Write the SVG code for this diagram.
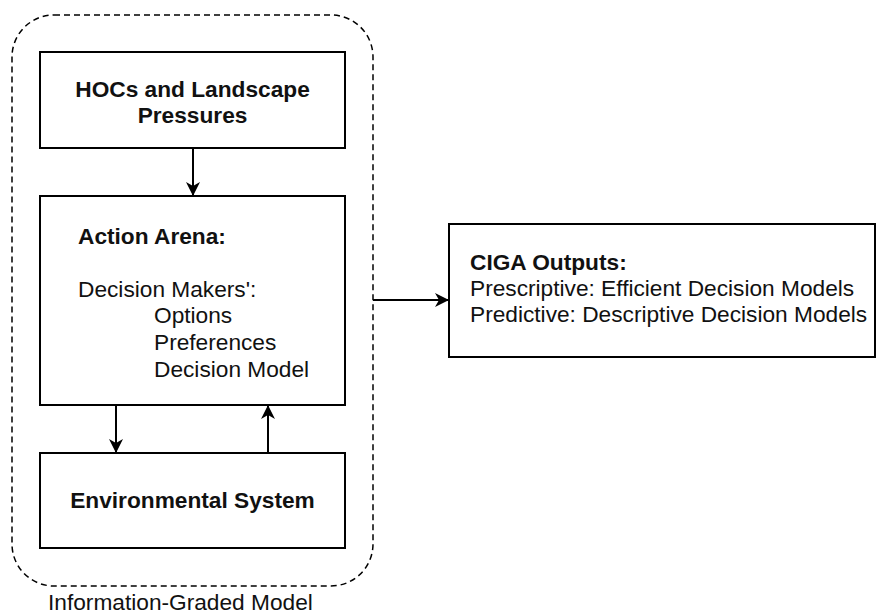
<svg xmlns="http://www.w3.org/2000/svg" width="877" height="615" viewBox="0 0 877 615">
<defs>
<style>
.box{fill:#fff;stroke:#000;stroke-width:2}
.t{font-family:"Liberation Sans",Arial,sans-serif;font-size:22.7px;fill:#111}
.b{font-weight:bold}
.c{fill:none;stroke:#000;stroke-width:2}
</style>
<marker id="ah" viewBox="0 0 14 14" refX="13" refY="7" markerWidth="14" markerHeight="14" markerUnits="userSpaceOnUse" orient="auto">
<path d="M0,0 L14,7 L0,14 L4,7 Z" fill="#000"/>
</marker>
</defs>
<rect width="877" height="615" fill="#fff"/>
<g id="container">
<rect x="12" y="15" width="361" height="571" rx="42" ry="42" fill="none" stroke="#000" stroke-width="1.5" stroke-dasharray="6,4"/>
<text class="t" x="48" y="610">Information-Graded Model</text>
</g>
<g id="hocs">
<rect class="box" x="40" y="52" width="305" height="96"/>
<text class="t b" x="192.5" y="97" text-anchor="middle">HOCs and Landscape</text>
<text class="t b" x="192.5" y="123" text-anchor="middle">Pressures</text>
</g>
<g id="action-arena">
<rect class="box" x="40" y="196" width="305" height="209"/>
<text class="t b" x="78" y="244">Action Arena:</text>
<text class="t" x="78" y="297">Decision Makers':</text>
<text class="t" x="154" y="323">Options</text>
<text class="t" x="154" y="350">Preferences</text>
<text class="t" x="154" y="377">Decision Model</text>
</g>
<g id="env">
<rect class="box" x="40" y="453" width="305" height="95"/>
<text class="t b" x="192.5" y="508" text-anchor="middle">Environmental System</text>
</g>
<g id="ciga">
<rect class="box" x="449" y="224" width="426" height="133"/>
<text class="t b" x="470" y="270">CIGA Outputs:</text>
<text class="t" x="470" y="296">Prescriptive: Efficient Decision Models</text>
<text class="t" x="470" y="322">Predictive: Descriptive Decision Models</text>
</g>
<g id="connectors">
<line class="c" x1="193" y1="148" x2="193" y2="195" marker-end="url(#ah)"/>
<line class="c" x1="116" y1="405" x2="116" y2="452" marker-end="url(#ah)"/>
<line class="c" x1="268" y1="453" x2="268" y2="406" marker-end="url(#ah)"/>
<line class="c" x1="373" y1="300" x2="448" y2="300" marker-end="url(#ah)"/>
</g>
</svg>
